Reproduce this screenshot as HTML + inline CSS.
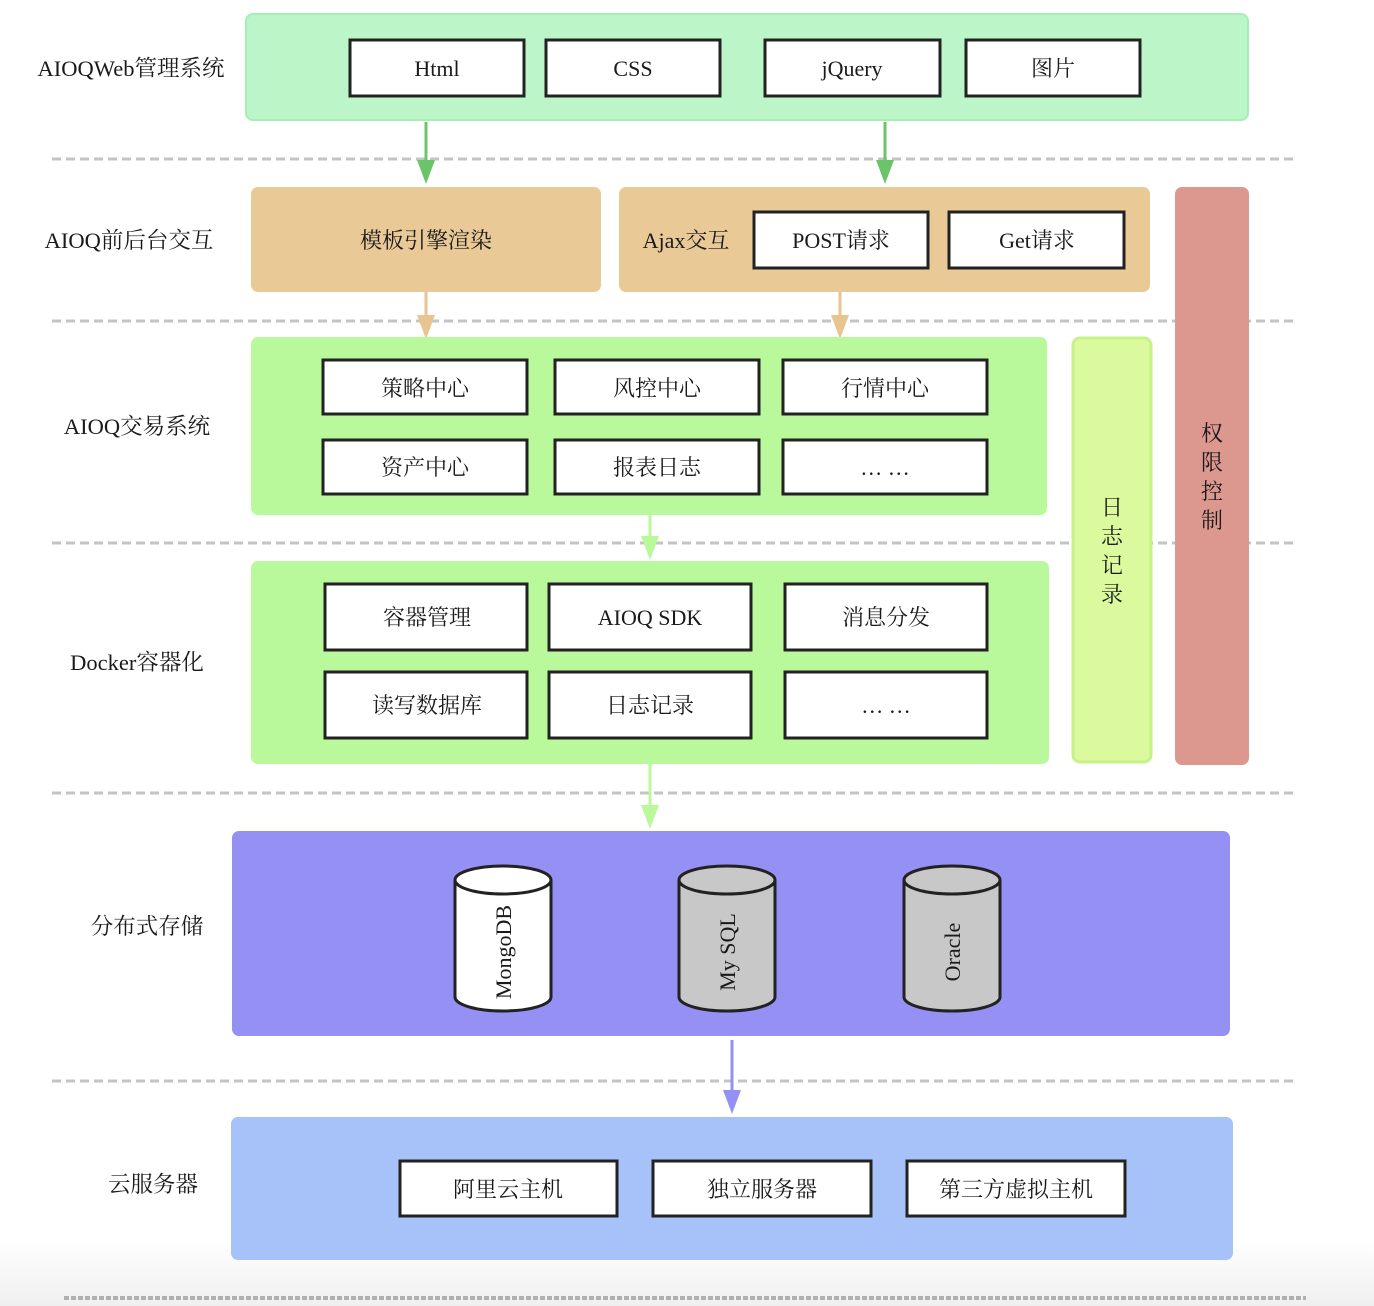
<!DOCTYPE html>
<html><head><meta charset="utf-8"><style>
html,body{margin:0;padding:0;background:#fff}
svg{display:block}
text{font-family:"Liberation Serif","Noto Serif CJK SC","Noto Sans CJK SC",serif;fill:#1a1a1a}
</style></head><body>
<svg width="1374" height="1306" viewBox="0 0 1374 1306" xmlns="http://www.w3.org/2000/svg">
<defs>
<linearGradient id="bg" x1="0" y1="0" x2="0" y2="1"><stop offset="0" stop-color="#fff"/><stop offset="1" stop-color="#efefef"/></linearGradient>
</defs>
<rect x="0" y="1240" width="1374" height="66" fill="url(#bg)"/>
<g stroke="#c4c4c4" stroke-width="3" stroke-dasharray="9,5">
<line x1="52" y1="159" x2="1296" y2="159"/>
<line x1="52" y1="321" x2="1296" y2="321"/>
<line x1="52" y1="543" x2="1296" y2="543"/>
<line x1="52" y1="793" x2="1296" y2="793"/>
<line x1="52" y1="1081" x2="1296" y2="1081"/>
</g>
<line x1="64" y1="1298" x2="1306" y2="1298" stroke="#b0b0b0" stroke-width="4" stroke-dasharray="5,2"/>

<g font-size="22.5" text-anchor="middle">
<text x="131" y="76">AIOQWeb管理系统</text>
<text x="129" y="248">AIOQ前后台交互</text>
<text x="137" y="434">AIOQ交易系统</text>
<text x="137" y="670">Docker容器化</text>
<text x="147" y="934">分布式存储</text>
<text x="153" y="1192">云服务器</text>
</g>

<rect x="246" y="14" width="1002" height="106" rx="7" fill="#bcf6c8" stroke="#a7eeb6" stroke-width="2"/>
<g fill="#fff" stroke="#222" stroke-width="3">
<rect x="350" y="40" width="174" height="56"/>
<rect x="546" y="40" width="174" height="56"/>
<rect x="765" y="40" width="175" height="56"/>
<rect x="966" y="40" width="174" height="56"/>
</g>
<g font-size="22" text-anchor="middle">
<text x="437" y="76">Html</text><text x="633" y="76">CSS</text><text x="852" y="76">jQuery</text><text x="1053" y="76">图片</text>
</g>
<g fill="#6cc46a" stroke="#6cc46a" stroke-width="3">
<line x1="426" y1="122" x2="426" y2="165"/><polygon points="417,160 435,160 426,184" stroke="none"/>
<line x1="885" y1="122" x2="885" y2="165"/><polygon points="876,160 894,160 885,184" stroke="none"/>
</g>

<rect x="251" y="187" width="350" height="105" rx="7" fill="#e9c996"/>
<rect x="619" y="187" width="531" height="105" rx="7" fill="#e9c996"/>
<rect x="1175" y="187" width="74" height="578" rx="7" fill="#dc978f"/>
<g fill="#fff" stroke="#222" stroke-width="3">
<rect x="754" y="212" width="174" height="56"/>
<rect x="949" y="212" width="175" height="56"/>
</g>
<g font-size="22" text-anchor="middle">
<text x="426" y="248">模板引擎渲染</text>
<text x="686" y="248">Ajax交互</text>
<text x="841" y="248">POST请求</text>
<text x="1037" y="248">Get请求</text>
</g>
<g fill="#e8c490" stroke="#e8c490" stroke-width="3">
<line x1="426" y1="292" x2="426" y2="320"/><polygon points="417,315 435,315 426,339" stroke="none"/>
<line x1="840" y1="292" x2="840" y2="320"/><polygon points="831,315 849,315 840,339" stroke="none"/>
</g>

<rect x="251" y="337" width="796" height="178" rx="7" fill="#b9f89b"/>
<rect x="1073" y="338" width="78" height="424" rx="7" fill="#dafa9d" stroke="#c7f28a" stroke-width="3"/>
<g fill="#fff" stroke="#222" stroke-width="3">
<rect x="323" y="360" width="204" height="54"/><rect x="555" y="360" width="204" height="54"/><rect x="783" y="360" width="204" height="54"/>
<rect x="323" y="440" width="204" height="54"/><rect x="555" y="440" width="204" height="54"/><rect x="783" y="440" width="204" height="54"/>
</g>
<g font-size="22" text-anchor="middle">
<text x="425" y="396">策略中心</text><text x="657" y="396">风控中心</text><text x="885" y="396">行情中心</text>
<text x="425" y="475">资产中心</text><text x="657" y="475">报表日志</text><text x="885" y="475">… …</text>
</g>
<g font-size="22" text-anchor="middle">
<text x="1112" y="515">日</text><text x="1112" y="544">志</text><text x="1112" y="573">记</text><text x="1112" y="602">录</text>
<text x="1212" y="441">权</text><text x="1212" y="470">限</text><text x="1212" y="499">控</text><text x="1212" y="528">制</text>
</g>
<g fill="#b9f89b" stroke="#b9f89b" stroke-width="3">
<line x1="650" y1="515" x2="650" y2="542"/><polygon points="641,536 659,536 650,560" stroke="none"/>
</g>

<rect x="251" y="561" width="798" height="203" rx="7" fill="#b9f89b"/>
<g fill="#fff" stroke="#222" stroke-width="3">
<rect x="325" y="584" width="202" height="66"/><rect x="549" y="584" width="202" height="66"/><rect x="785" y="584" width="202" height="66"/>
<rect x="325" y="672" width="202" height="66"/><rect x="549" y="672" width="202" height="66"/><rect x="785" y="672" width="202" height="66"/>
</g>
<g font-size="22" text-anchor="middle">
<text x="427" y="625">容器管理</text><text x="650" y="625">AIOQ SDK</text><text x="886" y="625">消息分发</text>
<text x="427" y="713">读写数据库</text><text x="650" y="713">日志记录</text><text x="886" y="713">… …</text>
</g>
<g fill="#b9f89b" stroke="#b9f89b" stroke-width="3">
<line x1="650" y1="764" x2="650" y2="810"/><polygon points="641,805 659,805 650,829" stroke="none"/>
</g>

<rect x="232" y="831" width="998" height="205" rx="7" fill="#9590f3"/>
<g stroke="#222" stroke-width="3">
<path d="M455,880 L455,997 A48,14 0 0 0 551,997 L551,880" fill="#fff"/>
<ellipse cx="503" cy="880" rx="48" ry="14" fill="#fff"/>
<path d="M679,880 L679,997 A48,14 0 0 0 775,997 L775,880" fill="#c8c8c8"/>
<ellipse cx="727" cy="880" rx="48" ry="14" fill="#c8c8c8"/>
<path d="M904,880 L904,997 A48,14 0 0 0 1000,997 L1000,880" fill="#c8c8c8"/>
<ellipse cx="952" cy="880" rx="48" ry="14" fill="#c8c8c8"/>
</g>
<g font-size="22" text-anchor="middle">
<text transform="translate(511,952) rotate(-90)">MongoDB</text>
<text transform="translate(735,952) rotate(-90)">My SQL</text>
<text transform="translate(960,952) rotate(-90)">Oracle</text>
</g>
<g fill="#9590f3" stroke="#9590f3" stroke-width="3">
<line x1="732" y1="1040" x2="732" y2="1095"/><polygon points="723,1090 741,1090 732,1114" stroke="none"/>
</g>

<rect x="231" y="1117" width="1002" height="143" rx="7" fill="#a7c2f8"/>
<g fill="#fff" stroke="#222" stroke-width="3">
<rect x="400" y="1161" width="217" height="55"/><rect x="653" y="1161" width="218" height="55"/><rect x="907" y="1161" width="218" height="55"/>
</g>
<g font-size="22" text-anchor="middle">
<text x="508" y="1197">阿里云主机</text><text x="762" y="1197">独立服务器</text><text x="1016" y="1197">第三方虚拟主机</text>
</g>
</svg>
</body></html>
